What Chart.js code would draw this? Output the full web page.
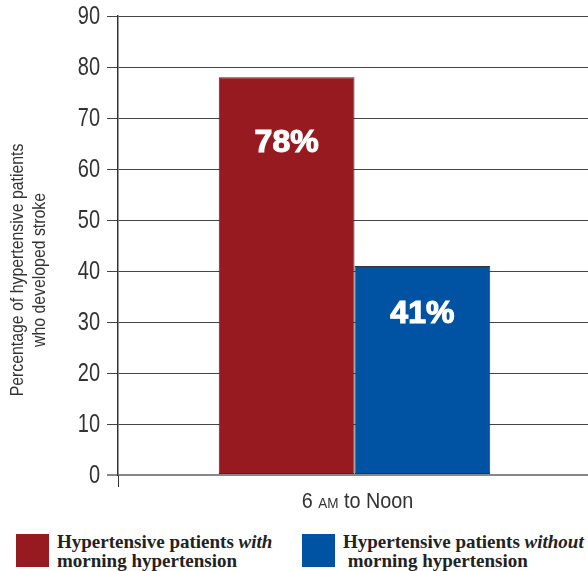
<!DOCTYPE html>
<html>
<head>
<meta charset="utf-8">
<script src="https://cdn.jsdelivr.net/npm/chart.js@4.4.0/dist/chart.umd.min.js"></script>
<style>
  body { margin: 0; background: #fff; width: 588px; height: 571px; overflow: hidden; position: relative; }
  #wrap { position: absolute; left: 0; top: 0; width: 591px; height: 520px; }
  .legend { position: absolute; top: 531px; left: 0; width: 588px; height: 40px; font-family: "Liberation Serif", "Times New Roman", serif; font-weight: bold; font-size: 19px; line-height: 19px; color: #222; }
  .legend .item { position: absolute; top: 0; }
  .legend .sw { position: absolute; top: 3px; left: 0; width: 33px; height: 33px; }
  .legend .txt { position: absolute; left: 41px; top: 1px; white-space: pre; }
</style>
</head>
<body>
<div id="wrap"><canvas id="chart"></canvas></div>
<div class="legend" id="legend"></div>
<script>
// data
var categories = ["6 AM to Noon"];
var withMorning = [78];
var withoutMorning = [41];
var yTicks = [0, 10, 20, 30, 40, 50, 60, 70, 80, 90];

var seriesNames = ["Hypertensive patients with morning hypertension", "Hypertensive patients without morning hypertension"];
var legendLines = [
    ["Hypertensive patients <i>with</i>", "morning hypertension"],
    ["Hypertensive patients <i>without</i>", " morning hypertension"]
];
var colors = ["#971a20", "#0052a3"];
var yTitle = ["Percentage of hypertensive patients", "who developed stroke"];

var sans = "'Liberation Sans', Arial, sans-serif";

// Legend (html, for the italic words)
var legend = document.getElementById("legend");
var legendX = [16, 302];
legendLines.forEach(function (lines, i) {
    var item = document.createElement("div");
    item.className = "item";
    item.style.left = legendX[i] + "px";
    item.innerHTML = '<div class="sw" style="background:' + colors[i] + '"></div>' +
        '<div class="txt">' + lines.join("<br>") + '</div>';
    legend.appendChild(item);
});

// condensed text helper (no narrow font installed)
function narrowText(ctx, text, x, y, sx, align) {
    ctx.save();
    ctx.translate(x, y);
    ctx.scale(sx, 1);
    ctx.textAlign = align;
    ctx.fillText(text, 0, 0);
    ctx.restore();
}

var extras = {
    id: "extras",
    afterDatasetsDraw: function (chart) {
        var ctx = chart.ctx;
        ctx.save();
        ctx.fillStyle = "#fff";
        ctx.strokeStyle = "#fff";
        ctx.lineWidth = 1.2;
        ctx.font = "bold 32px " + sans;
        ctx.textAlign = "center";
        ctx.textBaseline = "middle";
        chart.data.datasets.forEach(function (ds, i) {
            chart.getDatasetMeta(i).data.forEach(function (bar, j) {
                var off = 30 + 0.09 * (bar.base - bar.y);
                ctx.fillText(ds.data[j] + "%", bar.x, bar.y + off);
                ctx.strokeText(ds.data[j] + "%", bar.x, bar.y + off);
            });
        });
        ctx.restore();
    },
    afterDraw: function (chart) {
        var ctx = chart.ctx;
        var area = chart.chartArea;
        var yScale = chart.scales.y;

        // y tick labels
        ctx.save();
        ctx.fillStyle = "#333";
        ctx.font = "25px " + sans;
        ctx.textBaseline = "middle";
        yTicks.forEach(function (v) {
            narrowText(ctx, String(v), 100, yScale.getPixelForValue(v) + 1, 0.8, "right");
        });
        ctx.restore();

        // y title
        ctx.save();
        ctx.fillStyle = "#333";
        ctx.font = "18px " + sans;
        ctx.textBaseline = "middle";
        ctx.translate(29, 270);
        ctx.rotate(-Math.PI / 2);
        narrowText(ctx, yTitle[0], 0, -11, 0.88, "center");
        narrowText(ctx, yTitle[1], 0, 11, 0.88, "center");
        ctx.restore();

        // x label with small caps "AM"
        ctx.save();
        ctx.fillStyle = "#333";
        ctx.textBaseline = "alphabetic";
        var sx = 0.9;
        var parts = categories[0].split("AM");
        var big = "22px " + sans, small = "15px " + sans;
        ctx.font = big;
        var w1 = ctx.measureText(parts[0]).width * sx;
        var w3 = ctx.measureText(parts[1]).width * sx;
        ctx.font = small;
        var w2 = ctx.measureText("AM").width * sx;
        var x = (area.left + area.right) / 2 + 3 - (w1 + w2 + w3) / 2;
        var y = area.bottom + 33;
        ctx.font = big;
        narrowText(ctx, parts[0], x, y, sx, "left");
        ctx.font = small;
        narrowText(ctx, "AM", x + w1, y, sx, "left");
        ctx.font = big;
        narrowText(ctx, parts[1], x + w1 + w2, y, sx, "left");
        ctx.restore();
    }
};

new Chart(document.getElementById("chart"), {
    type: "bar",
    data: {
        labels: categories,
        datasets: [
            { label: seriesNames[0], data: withMorning, backgroundColor: colors[0], borderColor: "#333", borderWidth: 1, borderSkipped: false },
            { label: seriesNames[1], data: withoutMorning, backgroundColor: colors[1], borderColor: "#333", borderWidth: 1, borderSkipped: false }
        ]
    },
    options: {
        responsive: true,
        maintainAspectRatio: false,
        animation: false,
        layout: { padding: { top: 16, right: 0, bottom: 0, left: 0 } },
        plugins: { legend: { display: false }, tooltip: { enabled: false } },
        categoryPercentage: 0.574,
        barPercentage: 1.0,
        scales: {
            x: {
                offset: true,
                border: { display: false },
                grid: { drawOnChartArea: false, drawTicks: true, tickLength: 12, color: "#333" },
                ticks: { display: false },
                afterFit: function (scale) { scale.height = 45; }
            },
            y: {
                min: 0,
                max: 90,
                afterBuildTicks: function (scale) {
                    scale.ticks = yTicks.map(function (v) { return { value: v }; });
                },
                afterFit: function (scale) { scale.width = 118; },
                border: { color: "#333", width: 1.5 },
                grid: {
                    tickLength: 11,
                    color: function (c) { return c.tick && c.tick.value === 0 ? "#888" : "#444"; },
                    lineWidth: function (c) { return c.tick && c.tick.value === 0 ? 2 : 1; }
                },
                ticks: { display: false }
            }
        }
    },
    plugins: [extras]
});
</script>
</body>
</html>
